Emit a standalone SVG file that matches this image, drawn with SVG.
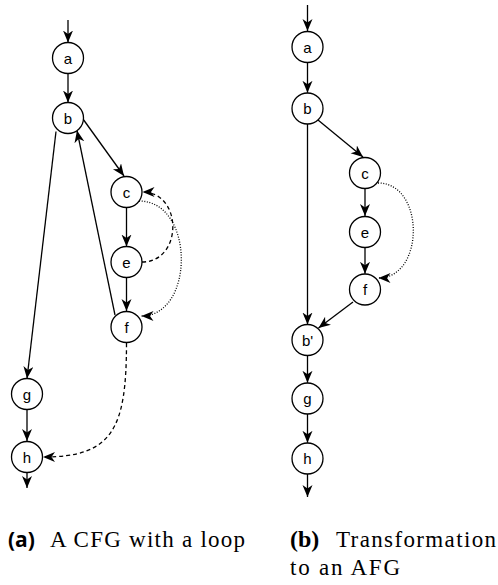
<svg xmlns="http://www.w3.org/2000/svg" width="498" height="585" viewBox="0 0 498 585">
<style>
.n circle{fill:#fff;stroke:#000;stroke-width:1.3}
.n text{font-family:"Liberation Sans",Arial,sans-serif;font-size:15px;text-anchor:middle;fill:#000}
.e path{fill:none;stroke:#000;stroke-width:1.3;marker-end:url(#ah)}
.e .dash{stroke-dasharray:4,3}
.e .dot{stroke-dasharray:1,1.6}
.cap{font-family:"Liberation Serif","Times New Roman",serif;font-size:23px;fill:#000}
.capb{font-family:"Open Sans","DejaVu Sans",sans-serif;font-size:21px;font-weight:bold;fill:#000}
.capbs{font-family:"Liberation Serif","Times New Roman",serif;font-size:24px;font-weight:bold;fill:#000}
</style>
<defs>
<marker id="ah" markerUnits="userSpaceOnUse" markerWidth="13" markerHeight="11" refX="12" refY="5" orient="auto">
<path d="M0,0 L12,5 L0,10 L3.5,5 Z" fill="#000"/>
</marker>
</defs>
<g id="edges" class="e">
<path d="M68,20 L68,42.5"/>
<path d="M68,73.5 L68,102.5"/>
<path d="M83,119 L124,176"/>
<path d="M56,131.5 L27,378.5"/>
<path d="M115,315 L77,130.5"/>
<path d="M126.5,207.5 L126.5,246.5"/>
<path d="M126.5,277.5 L126.5,311"/>
<path d="M27,409.5 L27,441"/>
<path d="M27,472.5 L27,488"/>
<path class="dash" d="M142,262 C183,262 183,192 142.5,192"/>
<path class="dot" d="M139,201 C195,201 195,316 141.5,316"/>
<path class="dash" d="M126.5,343 C126.5,430 112,457 43,457"/>
<path d="M307.5,5 L307.5,31"/>
<path d="M307.5,62.5 L307.5,92.8"/>
<path d="M318,120 L363,157"/>
<path d="M365,188.5 L365,216"/>
<path d="M365,247.5 L365,273.8"/>
<path d="M307.5,124 L307.5,324.5"/>
<path d="M353,302 L318.5,328"/>
<path class="dot" d="M378,183 C425,183 425,278 378.5,278"/>
<path d="M307.5,355.5 L307.5,382.8"/>
<path d="M307.5,414 L307.5,442.8"/>
<path d="M307.5,474 L307.5,497"/>
</g>
<g id="L_a" class="n"><circle cx="68" cy="58" r="15.5"/><text x="68" y="63.5">a</text></g>
<g id="L_b" class="n"><circle cx="68" cy="118" r="15.5"/><text x="68" y="123.5">b</text></g>
<g id="L_c" class="n"><circle cx="126.5" cy="192" r="15.5"/><text x="126.5" y="197.5">c</text></g>
<g id="L_e" class="n"><circle cx="126.5" cy="262" r="15.5"/><text x="126.5" y="267.5">e</text></g>
<g id="L_f" class="n"><circle cx="126.5" cy="327" r="15.5"/><text x="126.5" y="332.5">f</text></g>
<g id="L_g" class="n"><circle cx="27" cy="394" r="15.5"/><text x="27" y="399.5">g</text></g>
<g id="L_h" class="n"><circle cx="27" cy="457" r="15.5"/><text x="27" y="462.5">h</text></g>
<g id="R_a" class="n"><circle cx="307.5" cy="47" r="15.5"/><text x="307.5" y="52.5">a</text></g>
<g id="R_b" class="n"><circle cx="307.5" cy="108.5" r="15.5"/><text x="307.5" y="114">b</text></g>
<g id="R_c" class="n"><circle cx="365" cy="173" r="15.5"/><text x="365" y="178.5">c</text></g>
<g id="R_e" class="n"><circle cx="365" cy="232" r="15.5"/><text x="365" y="237.5">e</text></g>
<g id="R_f" class="n"><circle cx="365" cy="289.5" r="15.5"/><text x="365" y="295">f</text></g>
<g id="R_b2" class="n"><circle cx="307.5" cy="340" r="15.5"/><text x="307.5" y="345.5">b'</text></g>
<g id="R_g" class="n"><circle cx="307.5" cy="398.5" r="15.5"/><text x="307.5" y="404">g</text></g>
<g id="R_h" class="n"><circle cx="307.5" cy="458.5" r="15.5"/><text x="307.5" y="464">h</text></g>
<g id="captions">
<text class="capb" x="8" y="547">(a)</text>
<text class="cap" x="50" y="547" textLength="195" lengthAdjust="spacing">A CFG with a loop</text>
<text class="capbs" x="290" y="547">(b)</text>
<text class="cap" x="336" y="547" textLength="160" lengthAdjust="spacing">Transformation</text>
<text class="cap" x="290" y="575" textLength="110" lengthAdjust="spacing">to an AFG</text>
</g>
</svg>
